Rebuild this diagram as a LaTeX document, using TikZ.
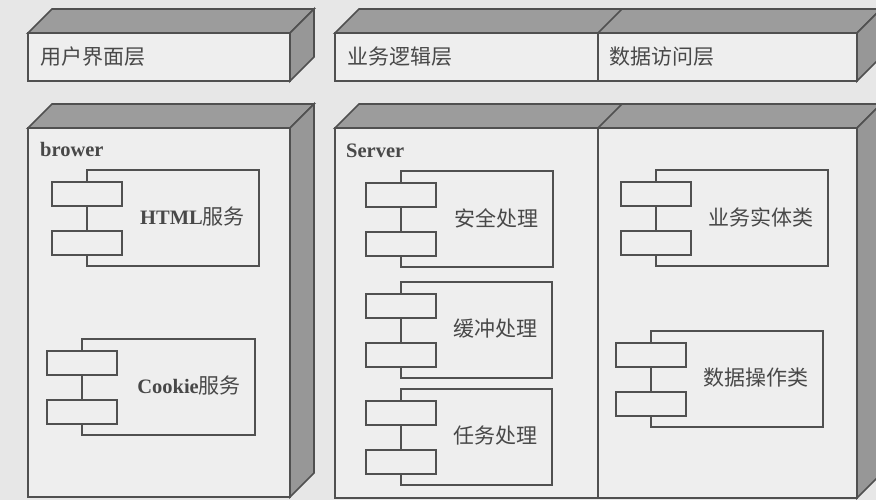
\documentclass[tikz,border=0pt]{standalone}
\usepackage{fontspec}
\setmainfont{Liberation Serif}
\newfontfamily\cjk{Noto Sans CJK SC}
\definecolor{bgc}{HTML}{E7E7E7}
\definecolor{facec}{HTML}{EEEEEE}
\definecolor{topc}{HTML}{9C9C9C}
\definecolor{sidec}{HTML}{979797}
\definecolor{linec}{HTML}{505050}
\definecolor{textc}{HTML}{484848}
\tikzset{
  edge/.style={draw=linec, line width=1.7pt, line join=miter},
  face/.style={edge, fill=facec},
  topface/.style={edge, fill=topc},
  sideface/.style={edge, fill=sidec},
  compbox/.style={edge, fill=facec, rectangle, inner sep=0pt, anchor=north west, minimum height=96pt},
  portbox/.style={edge, fill=facec, rectangle, inner sep=0pt, anchor=north west, minimum width=70pt, minimum height=24pt},
  cjklabel/.style={text=textc, inner sep=0pt, font=\cjk\fontsize{21}{24}\selectfont},
  latlabel/.style={text=textc, inner sep=0pt, font=\bfseries\fontsize{20.5}{24}\selectfont},
}
% 3D deployment box: x0, ytop, x1, ybottom
\newcommand\depbox[4]{%
  \path[face] (#1,#2) rectangle (#3,#4);
  \path[topface] (#1,#2) -- (#1+24,#2-24) -- (#3+24,#2-24) -- (#3,#2) -- cycle;
  \path[sideface] (#3,#2) -- (#3+24,#2-24) -- (#3+24,#4-24) -- (#3,#4) -- cycle;
}
% component: name, x, y, width, label
\newcommand\compo[5]{%
  \node[compbox, minimum width=#4pt] (#1) at (#2,#3) {};
  \node[portbox] (#1p1) at (#2-35,#3+12) {};
  \node[portbox] (#1p2) at (#2-35,#3+61) {};
  \node[anchor=east, inner sep=0pt] (#1t) at (#2+#4-13,#3+48) {#5};
}
\begin{document}
\begin{tikzpicture}[x=1pt,y=-1pt]
\useasboundingbox (0,0) rectangle (876,500);
\fill[bgc] (0,0) rectangle (876,500);

% top layer boxes
\depbox{28}{33}{290}{81}
\depbox{335}{33}{857}{81}
\draw[edge] (598,81) -- (598,33) -- (622,9);

% lower boxes
\depbox{28}{128}{290}{497}
\depbox{335}{128}{857}{498}
\draw[edge] (598,498) -- (598,128) -- (622,104);

% layer titles
\node[cjklabel, anchor=west] (ui) at (40,57) {用户界面层};
\node[cjklabel, anchor=west] (bl) at (347,57) {业务逻辑层};
\node[cjklabel, anchor=west] (da) at (609,57) {数据访问层};

% node titles
\node[latlabel, anchor=base west] (brower) at (40,157) {brower};
\node[latlabel, anchor=base west] (server) at (346,158) {Server};

% components
\compo{html}{86}{169}{172}{{\bfseries\fontsize{20.5}{24}\selectfont\color{textc}HTML}{\cjk\fontsize{21}{24}\selectfont\color{textc}服务}}
\compo{cookie}{81}{338}{173}{{\bfseries\fontsize{20.5}{24}\selectfont\color{textc}Cookie}{\cjk\fontsize{21}{24}\selectfont\color{textc}服务}}
\compo{sec}{400}{170}{152}{{\cjk\fontsize{21}{24}\selectfont\color{textc}安全处理}}
\compo{buf}{400}{281}{151}{{\cjk\fontsize{21}{24}\selectfont\color{textc}缓冲处理}}
\compo{task}{400}{388}{151}{{\cjk\fontsize{21}{24}\selectfont\color{textc}任务处理}}
\compo{ent}{655}{169}{172}{{\cjk\fontsize{21}{24}\selectfont\color{textc}业务实体类}}
\compo{dao}{650}{330}{172}{{\cjk\fontsize{21}{24}\selectfont\color{textc}数据操作类}}
\end{tikzpicture}
\end{document}
